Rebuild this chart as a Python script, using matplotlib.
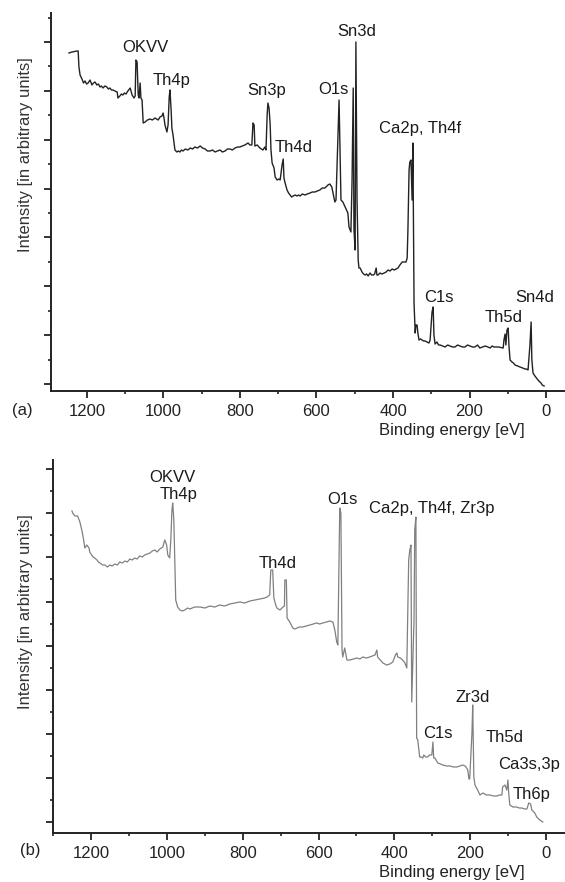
import matplotlib
matplotlib.use("Agg")
import matplotlib.pyplot as plt
from matplotlib.ticker import MultipleLocator

plt.rcParams['font.family'] = ['Liberation Sans', 'DejaVu Sans']
plt.rcParams['font.size'] = 12

# (a) survey spectrum: binding energy [eV] and intensity [arb. units]
ev_a = [1247, 1239, 1226, 1223, 1221, 1218, 1213, 1209, 1205, 1201,
        1197, 1192, 1187, 1183, 1179, 1174, 1170, 1166, 1162, 1158,
        1153, 1148, 1144, 1140, 1136, 1132, 1127, 1121, 1119, 1114,
        1110, 1106, 1102, 1098, 1093, 1087, 1082, 1077, 1074, 1072,
        1069, 1066, 1064, 1061, 1059, 1056, 1053, 1048, 1042, 1035,
        1029, 1022, 1014, 1009, 1004, 1001, 999, 996, 991, 988,
        985, 983, 980, 978, 975, 970, 965, 961, 957, 953,
        949, 943, 936, 930, 924, 918, 911, 904, 898, 891,
        885, 878, 872, 865, 859, 852, 846, 839, 833, 826,
        820, 813, 806, 800, 794, 787, 779, 774, 769, 766,
        763, 761, 755, 748, 744, 740, 735, 732, 729, 727,
        724, 721, 719, 716, 711, 708, 703, 698, 695, 690,
        687, 685, 682, 677, 673, 669, 665, 661, 656, 651,
        647, 643, 637, 630, 624, 617, 611, 604, 598, 591,
        585, 578, 570, 565, 560, 552, 549, 541, 536, 531,
        525, 518, 515, 512, 510, 507, 504, 502, 499, 497,
        494, 491, 489, 486, 481, 477, 473, 469, 465, 460,
        456, 452, 448, 444, 442, 439, 434, 429, 423, 418,
        413, 408, 402, 397, 392, 387, 382, 376, 366, 363,
        361, 358, 356, 353, 350, 348, 345, 342, 340, 337,
        335, 332, 328, 324, 320, 316, 311, 306, 303, 298,
        295, 293, 290, 285, 281, 277, 270, 264, 257, 251,
        244, 238, 231, 225, 218, 212, 205, 199, 192, 186,
        179, 173, 166, 159, 152, 146, 141, 136, 124, 112,
        110, 107, 105, 102, 99, 97, 94, 89, 85, 81,
        74, 68, 61, 55, 51, 47, 42, 39, 37, 34,
        29, 25, 21, 16, 13, 10, 5]
int_a = [338, 339, 340, 340, 324, 316, 312, 308, 310, 307,
         308, 311, 306, 308, 309, 306, 307, 304, 305, 303,
         305, 304, 302, 303, 301, 301, 300, 299, 293, 295,
         297, 296, 298, 297, 300, 303, 296, 293, 295, 331,
         329, 296, 293, 308, 293, 291, 268, 269, 271, 272,
         271, 273, 271, 274, 275, 278, 274, 266, 259, 266,
         294, 301, 281, 263, 256, 241, 239, 240, 239, 241,
         240, 242, 241, 243, 242, 244, 243, 245, 243, 242,
         240, 240, 241, 239, 240, 241, 239, 240, 242, 242,
         241, 243, 244, 244, 245, 246, 248, 246, 246, 268,
         266, 245, 246, 243, 242, 241, 244, 241, 276, 288,
         283, 266, 241, 228, 223, 214, 211, 212, 211, 226,
         232, 213, 208, 201, 198, 196, 194, 195, 196, 195,
         196, 195, 197, 196, 197, 198, 199, 199, 200, 201,
         203, 203, 206, 207, 204, 189, 191, 291, 191, 189,
         184, 178, 164, 161, 159, 211, 303, 161, 141, 349,
         191, 131, 123, 123, 119, 117, 116, 117, 115, 118,
         116, 116, 117, 123, 116, 116, 118, 117, 118, 119,
         121, 120, 122, 121, 122, 123, 126, 129, 129, 133,
         161, 221, 229, 231, 191, 248, 88, 58, 66, 66,
         58, 51, 52, 51, 50, 50, 49, 48, 51, 79,
         84, 56, 47, 49, 46, 46, 45, 44, 46, 45,
         44, 44, 46, 45, 44, 44, 46, 45, 44, 44,
         46, 43, 44, 45, 44, 43, 45, 44, 44, 43,
         51, 57, 46, 61, 63, 46, 31, 29, 28, 26,
         25, 24, 23, 22, 22, 21, 46, 69, 31, 18,
         15, 13, 11, 9, 8, 6, 5]

# (b) survey spectrum
ev_b = [1251, 1249, 1243, 1236, 1230, 1225, 1220, 1217, 1212, 1206,
        1204, 1199, 1195, 1191, 1185, 1181, 1177, 1170, 1164, 1157,
        1151, 1145, 1138, 1131, 1125, 1118, 1111, 1105, 1098, 1092,
        1085, 1079, 1072, 1065, 1059, 1052, 1045, 1039, 1032, 1026,
        1019, 1011, 1006, 1001, 998, 993, 990, 987, 985, 982,
        979, 977, 972, 966, 960, 953, 946, 940, 927, 913,
        900, 887, 874, 861, 848, 834, 821, 808, 795, 781,
        768, 755, 742, 736, 729, 726, 721, 718, 713, 710,
        702, 694, 690, 689, 685, 683, 676, 668, 662, 657,
        650, 642, 632, 623, 614, 605, 597, 589, 580, 570,
        562, 557, 552, 549, 545, 544, 541, 538, 536, 531,
        525, 517, 508, 499, 491, 483, 474, 465, 451, 446,
        444, 437, 430, 420, 412, 404, 397, 393, 391, 384,
        378, 372, 367, 362, 359, 356, 354, 348, 346, 343,
        341, 338, 335, 333, 329, 325, 322, 317, 312, 307,
        301, 298, 296, 293, 285, 278, 272, 262, 253, 244,
        235, 227, 219, 213, 209, 206, 203, 201, 195, 193,
        190, 187, 180, 174, 166, 157, 148, 138, 129, 122,
        116, 114, 108, 103, 100, 98, 95, 87, 77, 70,
        63, 56, 50, 45, 40, 37, 29, 24, 16, 8]
int_b = [322, 320, 317, 317, 311, 303, 293, 285, 288, 285,
         281, 278, 276, 275, 273, 271, 270, 268, 268, 266,
         268, 267, 269, 268, 271, 270, 272, 271, 274, 273,
         275, 274, 277, 276, 278, 279, 280, 282, 283, 281,
         284, 286, 293, 288, 278, 275, 293, 323, 330, 313,
         263, 233, 226, 223, 222, 223, 225, 224, 226, 226,
         225, 227, 226, 228, 227, 229, 230, 231, 230, 232,
         233, 234, 235, 236, 238, 263, 263, 235, 228, 225,
         223, 226, 227, 253, 253, 215, 211, 205, 204, 205,
         206, 206, 207, 208, 209, 210, 209, 210, 211, 212,
         211, 203, 191, 188, 300, 325, 320, 183, 176, 185,
         173, 173, 174, 175, 174, 176, 175, 176, 178, 183,
         176, 173, 170, 168, 169, 171, 178, 180, 176, 175,
         173, 170, 165, 273, 283, 288, 131, 213, 303, 316,
         95, 93, 83, 76, 76, 75, 78, 76, 76, 78,
         78, 91, 75, 75, 70, 69, 68, 67, 67, 66,
         66, 67, 68, 67, 65, 63, 54, 54, 100, 128,
         56, 48, 43, 38, 40, 38, 38, 37, 37, 38,
         38, 46, 48, 43, 53, 40, 28, 26, 26, 25,
         25, 24, 24, 30, 29, 23, 20, 16, 13, 11]

# peak assignments
labels_a = ["OKVV", "Th4p", "Sn3p", "Th4d", "O1s", "Sn3d", "Ca2p, Th4f",
            "C1s", "Th5d", "Sn4d"]
label_ev_a = [1046, 978, 729, 659, 557, 494, 329, 280, 112, 29]
label_int_a = [343, 311, 301, 244, 302, 359, 263, 94, 74, 93]

labels_b = ["OKVV", "Th4p", "Th4d", "O1s", "Ca2p, Th4f, Zr3p", "Zr3d",
            "C1s", "Th5d", "Ca3s,3p", "Th6p"]
label_ev_b = [985, 969, 708, 536, 301, 193, 285, 108, 45, 37]
label_int_b = [356, 339, 269, 334, 324, 136, 100, 96, 68, 38]

xticks = [1200, 1000, 800, 600, 400, 200, 0]

W, H = 565, 882
fig = plt.figure(figsize=(W / 100, H / 100), dpi=100)


def px_axes(left, top, right, bottom):
    return fig.add_axes([left / W, 1 - bottom / H, (right - left) / W, (bottom - top) / H])


def style(ax, xlim, ylim, ybase, yoff):
    ax.set_xlim(*xlim)
    ax.set_ylim(*ylim)
    for side in ("top", "right"):
        ax.spines[side].set_visible(False)
    for side in ("left", "bottom"):
        ax.spines[side].set_linewidth(1.4)
        ax.spines[side].set_color("#222222")
    ax.set_xticks(xticks)
    ax.xaxis.set_minor_locator(MultipleLocator(100))
    ax.yaxis.set_major_locator(MultipleLocator(ybase, offset=yoff))
    ax.yaxis.set_minor_locator(MultipleLocator(ybase / 2, offset=yoff))
    ax.set_yticklabels([])
    ax.tick_params(which="major", length=5, width=1.3, color="#222222",
                   labelsize=12, labelcolor="#222222", pad=4)
    ax.tick_params(which="minor", length=2.5, width=1.2, color="#222222")


ax_a = px_axes(51, 13, 564, 391)
ax_a.plot(ev_a, int_a, color="#222222", lw=1.0)
style(ax_a, (1294, -47), (0, 378), 48.86, 7)
for t, x, y in zip(labels_a, label_ev_a, label_int_a):
    ax_a.text(x, y, t, ha="center", va="center", fontsize=12, color="#1a1a1a")

ax_b = px_axes(53, 460, 564, 833)
ax_b.plot(ev_b, int_b, color="#808080", lw=0.9)
style(ax_b, (1301, -48), (0, 373), 44.1, 11)
for t, x, y in zip(labels_b, label_ev_b, label_int_b):
    ax_b.text(x, y, t, ha="center", va="center", fontsize=12, color="#1a1a1a")

# axis titles and panel letters
for ycen in (155, 612):
    fig.text(26 / W, 1 - ycen / H, "Intensity [in arbitrary units]", rotation=90,
             ha="center", va="center", fontsize=12, color="#333333")
for ycen in (431, 872):
    fig.text(452 / W, 1 - ycen / H, "Binding energy [eV]",
             ha="center", va="center", fontsize=12, color="#222222")
fig.text(22 / W, 1 - 410 / H, "(a)", ha="center", va="center", fontsize=12, color="#222222")
fig.text(30 / W, 1 - 850 / H, "(b)", ha="center", va="center", fontsize=12, color="#222222")

fig.savefig("out.png", dpi=100)
